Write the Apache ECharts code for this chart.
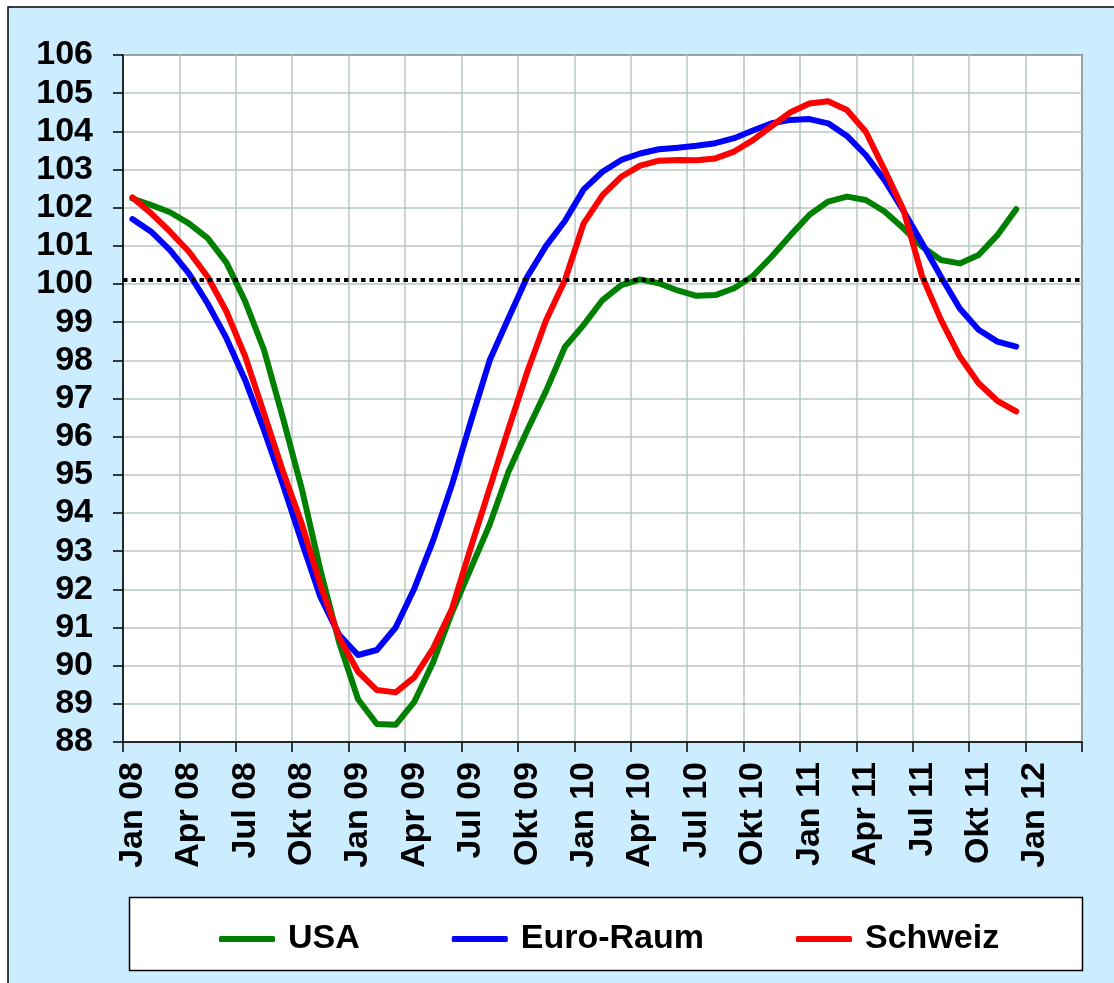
<!DOCTYPE html>
<html lang="de">
<head>
<meta charset="utf-8">
<title>USA, Euro-Raum, Schweiz</title>
<script src="https://cdn.jsdelivr.net/npm/echarts@6/dist/echarts.min.js"></script>
<style>
    html, body { margin: 0; padding: 0; background: #fff; }
    #box { width: 1114px; height: 983px; }
</style>
</head>
<body>
<div id="box"></div>
<script>
    // Achsenbeschriftung
    var monate = ['Jan', 'Feb', 'Mär', 'Apr', 'Mai', 'Jun', 'Jul', 'Aug', 'Sep', 'Okt', 'Nov', 'Dez'];
    var jahre = ['08', '09', '10', '11', '12'];
    var anzahlKategorien = 51; // Jan 08 bis Mär 12

    // Monatswerte Jan 08 - Dez 11
    var dataUSA = [102.24, 102.07, 101.88, 101.59, 101.2, 100.56, 99.54, 98.27, 96.5, 94.65,
        92.5, 90.6, 89.12, 88.47, 88.45, 89.06, 90.1, 91.4, 92.55, 93.7,
        95.08, 96.17, 97.2, 98.35, 98.93, 99.58, 99.97, 100.12, 100.02, 99.83,
        99.69, 99.71, 99.89, 100.21, 100.72, 101.28, 101.81, 102.16, 102.29, 102.2,
        101.9, 101.46, 100.98, 100.63, 100.54, 100.76, 101.28, 101.96];
    var dataEuro = [101.7, 101.37, 100.89, 100.28, 99.49, 98.58, 97.48, 96.17, 94.75, 93.25,
        91.8, 90.8, 90.28, 90.41, 91.0, 92.03, 93.29, 94.75, 96.4, 98.0,
        99.1, 100.19, 101.0, 101.65, 102.48, 102.94, 103.25, 103.42, 103.53, 103.57,
        103.62, 103.69, 103.82, 104.02, 104.21, 104.3, 104.32, 104.21, 103.88, 103.38,
        102.72, 101.92, 101.07, 100.19, 99.36, 98.8, 98.49, 98.36];
    var dataSchweiz = [102.27, 101.85, 101.37, 100.85, 100.19, 99.28, 98.1, 96.61, 95.1, 93.73,
        92.11, 90.73, 89.84, 89.36, 89.3, 89.7, 90.46, 91.5, 93.1, 94.65,
        96.2, 97.7, 99.05, 100.1, 101.59, 102.33, 102.81, 103.1, 103.23, 103.25,
        103.24, 103.29, 103.47, 103.77, 104.14, 104.5, 104.73, 104.79, 104.56, 103.99,
        102.99, 101.95, 100.2, 99.06, 98.1, 97.4, 96.94, 96.66];
    var referenzLinie = 100.1;

    var kategorien = [];
    for (var j = 0; j < jahre.length; j++) {
        for (var m = 0; m < 12; m++) {
            kategorien.push(monate[m] + ' ' + jahre[j]);
        }
    }
    kategorien = kategorien.slice(0, anzahlKategorien);

    var schrift = '"Liberation Sans", Arial, sans-serif';

    var myChart = echarts.init(document.getElementById('box'));

    var option = {
        animation: false,
        backgroundColor: '#fff',
        graphic: [
            {
                type: 'rect',
                z: -10,
                shape: { x: 8, y: 7, width: 1200, height: 1100 },
                style: { fill: '#ccecff', stroke: '#000', lineWidth: 1.5 }
            },
            {
                type: 'rect',
                z: -5,
                shape: { x: 129.5, y: 897.5, width: 953, height: 73 },
                style: { fill: '#fff', stroke: '#000', lineWidth: 1.5 }
            }
        ],
        grid: {
            left: 123,
            right: 32,
            top: 55,
            bottom: 241,
            show: true,
            backgroundColor: '#fff',
            borderColor: '#000',
            borderWidth: 1.5
        },
        legend: {
            left: 214,
            top: 917,
            icon: 'roundRect',
            itemWidth: 56,
            itemHeight: 6,
            itemGap: 92,
            textStyle: {
                fontFamily: schrift,
                fontSize: 34,
                fontWeight: 'bold',
                color: '#000',
                lineHeight: 34,
                padding: [0, 0, 0, 8]
            },
            data: ['USA', 'Euro-Raum', 'Schweiz']
        },
        xAxis: {
            type: 'category',
            boundaryGap: true,
            data: kategorien,
            axisLine: { lineStyle: { color: '#000', width: 1.5 } },
            axisTick: { show: true, interval: 2, length: 10, lineStyle: { color: '#000', width: 1.5 } },
            axisLabel: {
                interval: 2,
                rotate: 90,
                margin: 20,
                color: '#000',
                fontFamily: schrift,
                fontSize: 34,
                fontWeight: 'bold'
            },
            splitLine: { show: true, interval: 2, lineStyle: { color: '#b9c7c3', width: 1.5 } }
        },
        yAxis: {
            type: 'value',
            min: 88,
            max: 106,
            interval: 1,
            axisLine: { show: true, lineStyle: { color: '#000', width: 1.5 } },
            axisTick: { show: true, length: 10, lineStyle: { color: '#000', width: 1.5 } },
            axisLabel: {
                margin: 30,
                color: '#000',
                fontFamily: schrift,
                fontSize: 34,
                fontWeight: 'bold'
            },
            splitLine: { show: true, lineStyle: { color: '#b9c7c3', width: 1.5 } }
        },
        series: [
            {
                name: 'USA',
                type: 'line',
                data: dataUSA,
                symbol: 'none',
                color: '#008000',
                lineStyle: { width: 6, color: '#008000', cap: 'round', join: 'round' },
                markLine: {
                    silent: true,
                    symbol: 'none',
                    label: { show: false },
                    lineStyle: { color: '#000', width: 4, type: [4.5, 4], cap: 'butt' },
                    data: [{ yAxis: referenzLinie }]
                }
            },
            {
                name: 'Euro-Raum',
                type: 'line',
                data: dataEuro,
                symbol: 'none',
                color: '#0000ff',
                lineStyle: { width: 6, color: '#0000ff', cap: 'round', join: 'round' }
            },
            {
                name: 'Schweiz',
                type: 'line',
                data: dataSchweiz,
                symbol: 'none',
                color: '#ff0000',
                lineStyle: { width: 6, color: '#ff0000', cap: 'round', join: 'round' }
            }
        ]
    };

    myChart.setOption(option);
</script>
</body>
</html>
